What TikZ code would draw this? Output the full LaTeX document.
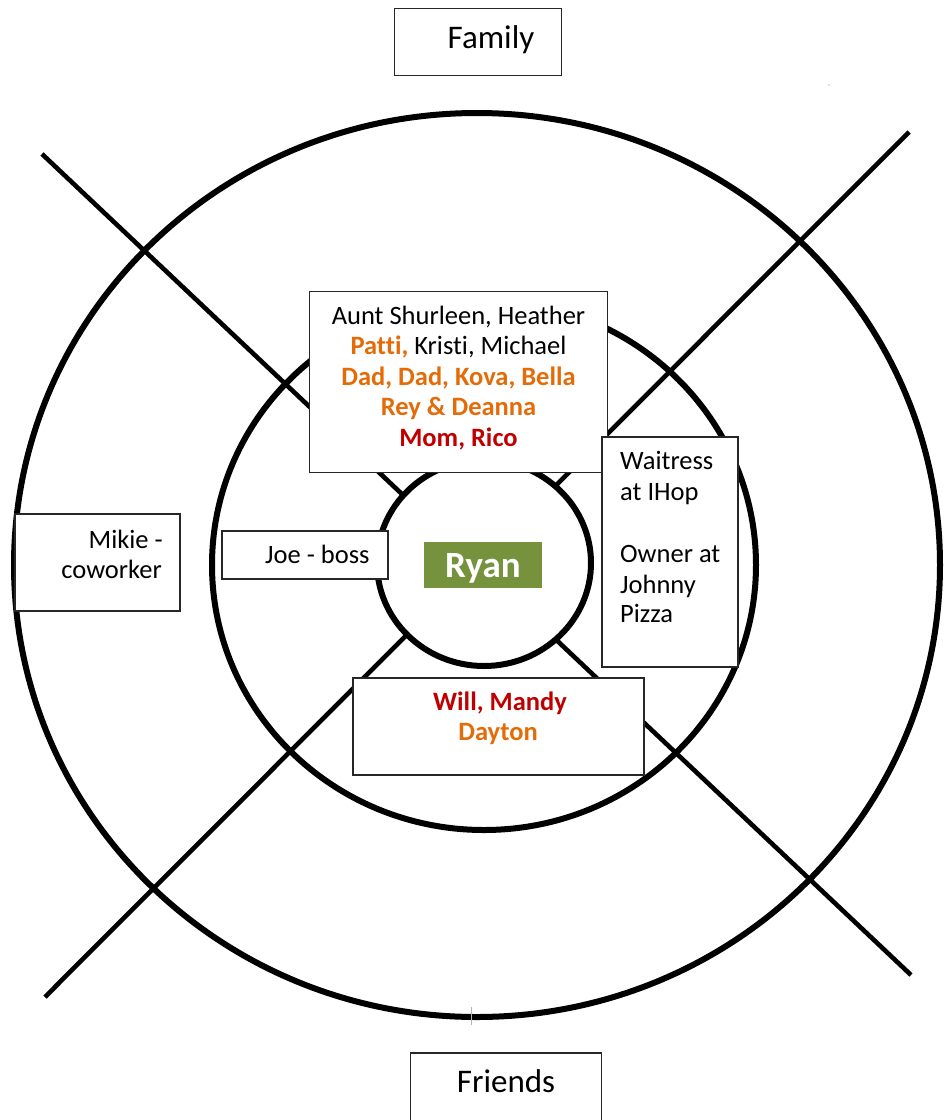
\documentclass[tikz,border=0pt]{standalone}
\usepackage{fontspec}
\setmainfont{Carlito}[Ligatures=NoCommon]
\definecolor{kinorange}{HTML}{E36C09}
\definecolor{kinred}{HTML}{C00000}
\definecolor{selfgreen}{HTML}{76923C}
\definecolor{frameline}{HTML}{262626}

\begin{document}
\begin{tikzpicture}[x=1pt,y=-1pt,
  ring/.style={line width=6pt},
  spoke/.style={line width=4.6pt},
  box/.style={draw=frameline, line width=1.8pt, fill=white, inner sep=0pt},
  txt/.style={font=\fontsize{26.5}{31}\selectfont, inner sep=0pt, anchor=base},
  big/.style={font=\fontsize{33}{38}\selectfont, inner sep=0pt, anchor=base},
  hot/.style={text=kinred, font=\fontsize{26.5}{31}\selectfont\bfseries},
  warm/.style={text=kinorange, font=\fontsize{26.5}{31}\selectfont\bfseries},
]
\useasboundingbox (0,0) rectangle (944,1120);

% the two crossing spokes
\coordinate (nw) at (42,154);
\coordinate (se) at (911,975);
\coordinate (ne) at (909,132);
\coordinate (sw) at (45,997);
\draw[spoke] (nw) -- (se);
\draw[spoke] (ne) -- (sw);

% three rings around the centre
\draw[ring] (477,565) ellipse [x radius=463, y radius=452];
\draw[ring] (484,565) ellipse [x radius=272, y radius=265];
\draw[ring, fill=white] (484,563) ellipse [x radius=107, y radius=103];

% small grey marks
\coordinate (tickA) at (471,1007);
\coordinate (tickB) at (471,1025);
\draw[gray!60, line width=0.8pt] (tickA) -- (tickB);
\fill[gray!50] (829,85) circle (0.9);

% centre
\node[fill=selfgreen, inner sep=0pt, minimum width=118pt, minimum height=46pt] (selfbox) at (483,565) {};
\node[inner sep=0pt, anchor=base, text=white, font=\fontsize{37}{42}\selectfont\bfseries] (self) at (483,577) {Ryan};

% headings
\node[box, minimum width=167pt, minimum height=67pt] (famhead) at (478,42) {};
\node[big] (famtxt) at (491,48) {Family};
\node[box, minimum width=191pt, minimum height=80pt] (frhead) at (506,1093) {};
\node[big] (frtxt) at (506,1092) {Friends};

% family block
\node[box, minimum width=298pt, minimum height=181pt] (fam) at (458.5,382) {};
\node[txt] (f1) at (458.5,324) {Aunt Shurleen, Heather};
\node[txt] (f2) at (458.5,354.5) {{\bfseries\color{kinorange}Patti,} Kristi, Michael};
\node[txt, warm] (f3) at (458.5,385) {Dad, Dad, Kova, Bella};
\node[txt, warm] (f4) at (458.5,415.5) {Rey \& Deanna};
\node[txt, hot] (f5) at (458.5,446) {Mom, Rico};

% work block on the right
\node[box, minimum width=136pt, minimum height=230pt] (work) at (670,552) {};
\node[txt, anchor=base west] (w1) at (620,469) {Waitress};
\node[txt, anchor=base west] (w2) at (620,500) {at IHop};
\node[txt, anchor=base west] (w3) at (620,562) {Owner at};
\node[txt, anchor=base west] (w4) at (620,593) {Johnny};
\node[txt, anchor=base west] (w5) at (620,622) {Pizza};

% boss
\node[box, minimum width=166pt, minimum height=48pt] (boss) at (305,555) {};
\node[txt, anchor=base west] (bosstxt) at (265,563) {Joe - boss};

% coworker
\node[box, minimum width=165pt, minimum height=97pt] (cowork) at (97.5,562.5) {};
\node[txt, anchor=base east] (c1) at (163,548) {Mikie -};
\node[txt, anchor=base east] (c2) at (162,578) {coworker};

% friends block
\node[box, minimum width=291pt, minimum height=97pt] (pals) at (498.5,726.5) {};
\node[txt, hot] (p1) at (500,710) {Will, Mandy};
\node[txt, warm] (p2) at (498,740) {Dayton};
\end{tikzpicture}
\end{document}
